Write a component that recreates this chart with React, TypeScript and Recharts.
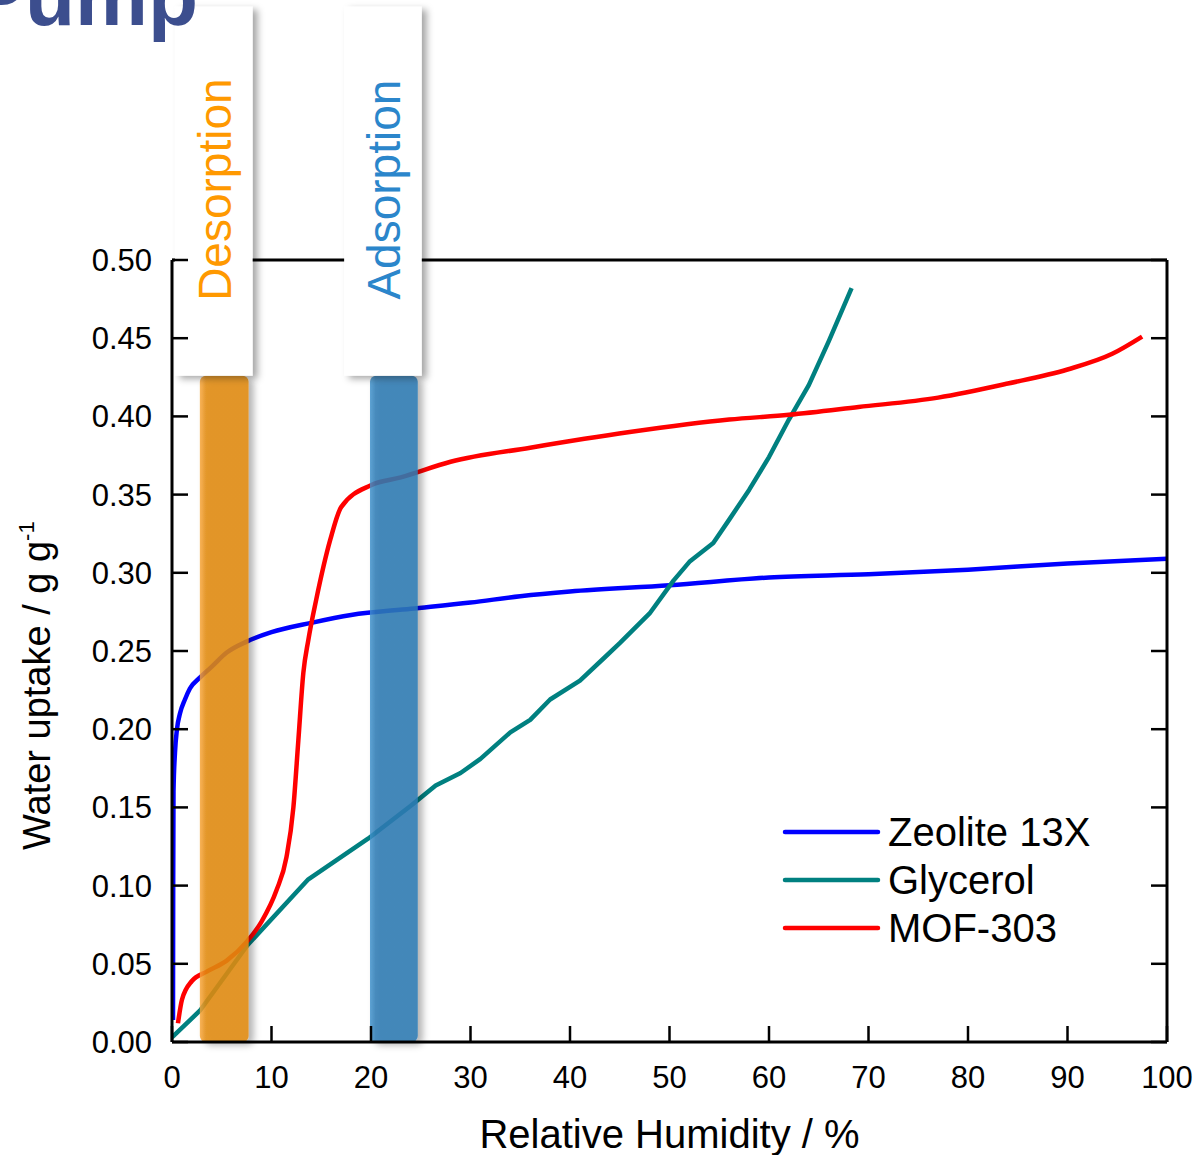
import React from 'react';
import { LineChart, Line, XAxis, YAxis, ReferenceArea, Legend } from 'recharts';

const FONT = '"Liberation Sans", Arial, Helvetica, sans-serif';

// axis ticks
const rhTicks = [0, 10, 20, 30, 40, 50, 60, 70, 80, 90, 100];
const uptakeTicks = [0, 0.05, 0.1, 0.15, 0.2, 0.25, 0.3, 0.35, 0.4, 0.45, 0.5];

// Zeolite 13X isotherm
const zeoliteRH = [0.1, 0.12, 0.15, 0.3, 0.5, 0.8, 1.3, 1.8, 2.8, 4, 5.5, 7.5, 10, 14, 18, 24, 30, 35, 40, 50, 60, 70, 80, 90, 100];
const zeoliteUptake = [0.014, 0.1, 0.16, 0.185, 0.2, 0.21, 0.219, 0.226, 0.233, 0.24, 0.249, 0.256, 0.262, 0.268, 0.273, 0.277, 0.281, 0.285, 0.288, 0.292, 0.297, 0.299, 0.302, 0.306, 0.309];

// Glycerol isotherm
const glycerolRH = [0, 2.8, 7.6, 13.7, 19.7, 24, 26.5, 29, 31, 34, 36, 38, 41, 43.5, 45, 48, 50.4, 52, 54.4, 56, 58, 60, 62, 64, 66, 68.3];
const glycerolUptake = [0.003, 0.02, 0.062, 0.104, 0.13, 0.151, 0.164, 0.172, 0.181, 0.198, 0.206, 0.219, 0.231, 0.246, 0.255, 0.274, 0.295, 0.307, 0.319, 0.334, 0.353, 0.374, 0.398, 0.42, 0.448, 0.482];

// MOF-303 isotherm
const mofRH = [0.6, 1.0, 2.0, 3.5, 5.5, 7.5, 9, 10.5, 11.5, 12.2, 12.7, 13.2, 13.7, 14.5, 15.9, 17, 20, 23, 28, 36, 46, 56, 62, 69, 77, 84, 90, 94.5, 97.5];
const mofUptake = [0.012, 0.027, 0.039, 0.045, 0.052, 0.064, 0.077, 0.097, 0.118, 0.15, 0.193, 0.236, 0.257, 0.283, 0.321, 0.342, 0.356, 0.361, 0.371, 0.38, 0.39, 0.398, 0.401, 0.406, 0.412, 0.421, 0.43, 0.44, 0.451];

// operating windows (RH %) and their label boxes
const desorptionBand = [2.8, 7.7];
const adsorptionBand = [19.9, 24.7];
const bandTop = 0.426;
const desorptionBox = [0.3, 8.1];
const adsorptionBox = [17.3, 25.1];
const boxUptake = [0.426, 0.662];

const toPoints = (rh: number[], uptake: number[]) => rh.map((v, i) => ({ rh: v, uptake: uptake[i] }));

const series = [
  { name: 'Zeolite 13X', color: '#0000ff', curve: 'monotone', data: toPoints(zeoliteRH, zeoliteUptake) },
  { name: 'Glycerol', color: '#008080', curve: 'linear', data: toPoints(glycerolRH, glycerolUptake) },
  { name: 'MOF-303', color: '#ff0000', curve: 'monotone', data: toPoints(mofRH, mofUptake) },
];

const BottomTick = ({ x, y, payload }: any) => (
  <g>
    <line x1={x} x2={x} y1={y} y2={y - 16} stroke="#000" strokeWidth={2.5} />
    <text x={x} y={y + 46} textAnchor="middle" fontSize={31} fontFamily={FONT} fill="#000">{payload.value}</text>
  </g>
);

const TopTick = ({ x, y }: any) => (
  <line x1={x} x2={x} y1={y} y2={y + 16} stroke="#000" strokeWidth={2.5} />
);

const LeftTick = ({ x, y, payload }: any) => (
  <g>
    <line x1={x} x2={x + 16} y1={y} y2={y} stroke="#000" strokeWidth={2.5} />
    <text x={x - 20} y={y + 11} textAnchor="end" fontSize={31} fontFamily={FONT} fill="#000">{Number(payload.value).toFixed(2)}</text>
  </g>
);

const RightTick = ({ x, y }: any) => (
  <line x1={x} x2={x - 16} y1={y} y2={y} stroke="#000" strokeWidth={2.5} />
);

const bandShape = (gradient: string) => (p: any) => (
  <rect x={p.x} y={p.y} width={p.width} height={p.height} rx={6} ry={6}
    fill={`url(#${gradient})`} fillOpacity={0.85} filter="url(#softShadow)" />
);

const boxShape = (text: string, color: string) => (p: any) => {
  const tx = p.x + 56;
  const ty = p.y + 183;
  return (
    <g>
      <rect x={p.x} y={p.y} width={p.width} height={p.height} fill="#fff" filter="url(#softShadow)" />
      <text x={tx} y={ty} transform={`rotate(-90, ${tx}, ${ty})`} textAnchor="middle"
        fontSize={46} fontFamily={FONT} fill={color}>{text}</text>
    </g>
  );
};

const renderLegend = () => (
  <svg width={330} height={150}>
    {series.map((s, i) => (
      <g key={s.name}>
        <line x1={5} x2={98} y1={24 + i * 48} y2={24 + i * 48} stroke={s.color} strokeWidth={4.5} strokeLinecap="round" />
        <text x={108} y={38 + i * 48} fontSize={40} fontFamily={FONT} fill="#000">{s.name}</text>
      </g>
    ))}
  </svg>
);

const XTitle = ({ viewBox }: any) => (
  <text x={viewBox.x + viewBox.width / 2} y={viewBox.y + 106} textAnchor="middle" fontSize={40} fontFamily={FONT} fill="#000">
    Relative Humidity / %
  </text>
);

const YTitle = () => (
  <text x={50} y={850} transform="rotate(-90, 50, 850)" fontSize={38} fontFamily={FONT} fill="#000">
    Water uptake / g g<tspan dy={-16} fontSize={22}>-1</tspan>
  </text>
);

export default function App() {
  const axisLine = { stroke: '#000', strokeWidth: 3 };
  return (
    <div style={{ position: 'absolute', left: 0, top: 0, width: 1197, height: 1155, overflow: 'hidden', background: '#fff' }}>
      <svg width={0} height={0} style={{ position: 'absolute' }}>
        <defs>
          <filter id="softShadow" x="-30%" y="-10%" width="160%" height="120%">
            <feDropShadow dx={5} dy={3} stdDeviation={3.5} floodColor="#000" floodOpacity={0.35} />
          </filter>
          <linearGradient id="orangeBand" x1="0" x2="1" y1="0" y2="0">
            <stop offset="0" stopColor="#f8a63a" />
            <stop offset="0.12" stopColor="#e48c12" />
            <stop offset="1" stopColor="#e48c12" />
          </linearGradient>
          <linearGradient id="blueBand" x1="0" x2="1" y1="0" y2="0">
            <stop offset="0" stopColor="#4192cc" />
            <stop offset="0.12" stopColor="#2d7cb5" />
            <stop offset="1" stopColor="#2d7cb5" />
          </linearGradient>
        </defs>
      </svg>
      <LineChart width={1197} height={1155} margin={{ top: 259, right: 29, bottom: 13, left: 72 }}>
        <XAxis dataKey="rh" type="number" domain={[0, 100]} ticks={rhTicks} allowDataOverflow
          height={100} tickSize={0} tickMargin={0} tick={BottomTick} axisLine={axisLine} tickLine={false}
          label={{ content: XTitle }} />
        <XAxis xAxisId="top" orientation="top" type="number" domain={[0, 100]} ticks={rhTicks} allowDataOverflow
          height={1} tickSize={0} tickMargin={0} tick={TopTick} axisLine={axisLine} tickLine={false} />
        <YAxis type="number" domain={[0, 0.5]} ticks={uptakeTicks} allowDataOverflow
          width={100} tickSize={0} tickMargin={0} tick={LeftTick} axisLine={axisLine} tickLine={false}
          label={{ content: YTitle }} />
        <YAxis yAxisId="right" orientation="right" type="number" domain={[0, 0.5]} ticks={uptakeTicks} allowDataOverflow
          width={1} tickSize={0} tickMargin={0} tick={RightTick} axisLine={axisLine} tickLine={false} />
        {series.map((s) => (
          <Line key={s.name} name={s.name} data={s.data} dataKey="uptake" type={s.curve as any} stroke={s.color}
            strokeWidth={4.5} strokeLinejoin="round" dot={false} activeDot={false} isAnimationActive={false} />
        ))}
        <ReferenceArea x1={desorptionBand[0]} x2={desorptionBand[1]} y1={0} y2={bandTop} ifOverflow="visible"
          zIndex={450} shape={bandShape('orangeBand')} />
        <ReferenceArea x1={adsorptionBand[0]} x2={adsorptionBand[1]} y1={0} y2={bandTop} ifOverflow="visible"
          zIndex={450} shape={bandShape('blueBand')} />
        <ReferenceArea x1={desorptionBox[0]} x2={desorptionBox[1]} y1={boxUptake[0]} y2={boxUptake[1]} ifOverflow="visible"
          zIndex={650} shape={boxShape('Desorption', '#ff9900')} />
        <ReferenceArea x1={adsorptionBox[0]} x2={adsorptionBox[1]} y1={boxUptake[0]} y2={boxUptake[1]} ifOverflow="visible"
          zIndex={650} shape={boxShape('Adsorption', '#2b86cb')} />
        <Legend layout="vertical" align="center" verticalAlign="middle" content={renderLegend}
          wrapperStyle={{ position: 'absolute', left: 780, top: 808, width: 330, height: 150 }} />
      </LineChart>
      <svg width={300} height={60} style={{ position: 'absolute', left: 0, top: 0 }}>
        <text x={198} y={25} textAnchor="end" fontSize={82} fontWeight="bold" fontFamily={FONT} fill="#3c4e8e">Pump</text>
      </svg>
    </div>
  );
}
